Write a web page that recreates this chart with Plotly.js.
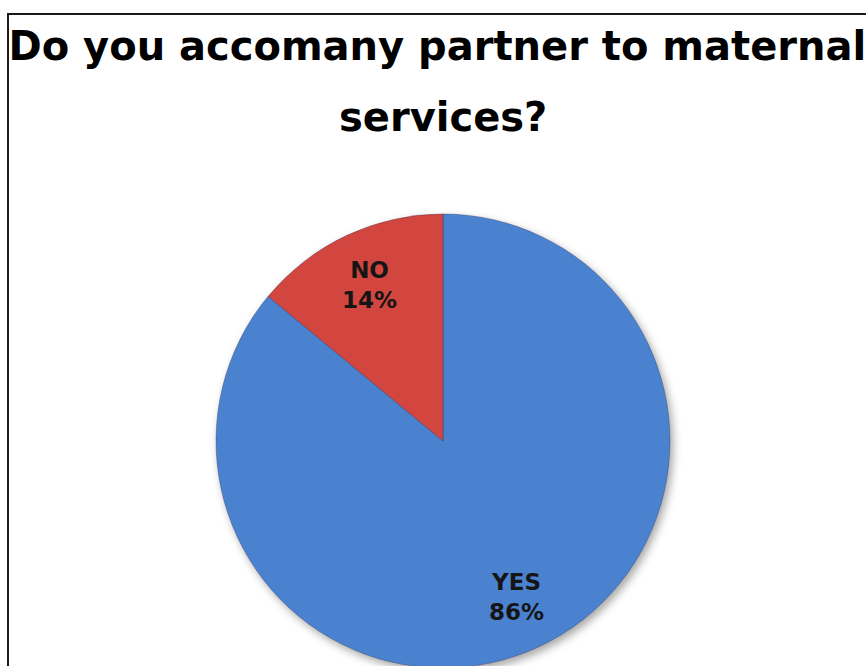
<!DOCTYPE html>
<html>
<head>
<meta charset="utf-8">
<script src="https://cdn.plot.ly/plotly-3.0.1.min.js"></script>
<style>
  html, body { margin: 0; padding: 0; background: #ffffff; overflow: hidden; }
  #wrap { position: relative; width: 866px; height: 666px; overflow: hidden; }
  #chart { position: absolute; left: 0; top: 0; width: 866px; height: 700px; }
  #chart .pielayer { filter: drop-shadow(3px 4px 4px rgba(0,0,0,0.35)); }
  #frame { position: absolute; left: 7px; top: 13px; width: 900px; height: 700px;
           border-top: 2px solid #1a1a1a; border-left: 2px solid #1a1a1a; pointer-events: none; }
</style>
</head>
<body>
<div id="wrap">
  <div id="chart"></div>
  <div id="frame"></div>
</div>
<script>
const categories = ["YES", "NO"];
const values = [86, 14];
const sliceColors = ["#4a82cf", "#d3463f"];
const titleLine1 = "Do you accomany partner to maternal";
const titleLine2 = "services?";

const labelFont = { family: "'DejaVu Sans', sans-serif", size: 23, color: "#151515", weight: "bold" };

const trace = {
  type: "pie",
  labels: categories,
  values: values,
  sort: false,
  direction: "clockwise",
  rotation: 0,
  textinfo: "none",
  marker: { colors: sliceColors, line: { color: "rgba(50,50,90,0.35)", width: 1 } },
  hoverinfo: "label+percent",
  showlegend: false
};

// slice labels placed at each slice's mid-angle, computed from the data
const total = values.reduce((a, b) => a + b, 0);
const labelRadius = 0.76;
let cum = 0;
const sliceAnnotations = values.map((v, i) => {
  const mid = (cum + v / 2) / total * 2 * Math.PI;
  cum += v;
  return {
    xref: "paper", yref: "paper",
    x: 0.5 + 0.5 * labelRadius * Math.sin(mid),
    y: 0.5 + 0.5 * labelRadius * Math.cos(mid),
    xanchor: "center", yanchor: "middle",
    text: categories[i] + "<br>" + Math.round(v / total * 100) + "%",
    showarrow: false,
    font: labelFont
  };
});

const titleFont = { family: "'DejaVu Sans', sans-serif", size: 40, color: "#000000", weight: "bold" };

const layout = {
  width: 866,
  height: 700,
  margin: { t: 214, b: 32, l: 216, r: 196 },
  paper_bgcolor: "#ffffff",
  plot_bgcolor: "#ffffff",
  showlegend: false,
  title: {
    text: titleLine1,
    font: titleFont,
    x: 0.505,
    xref: "container",
    xanchor: "center",
    y: 1 - 46 / 700,
    yref: "container",
    yanchor: "middle"
  },
  annotations: sliceAnnotations.concat([{
    xref: "paper", yref: "paper",
    x: 0.5, y: (668 - 117) / 454,
    xanchor: "center", yanchor: "middle",
    text: titleLine2, showarrow: false, font: titleFont
  }])
};

Plotly.newPlot("chart", [trace], layout, { displayModeBar: false, staticPlot: true });
</script>
</body>
</html>
